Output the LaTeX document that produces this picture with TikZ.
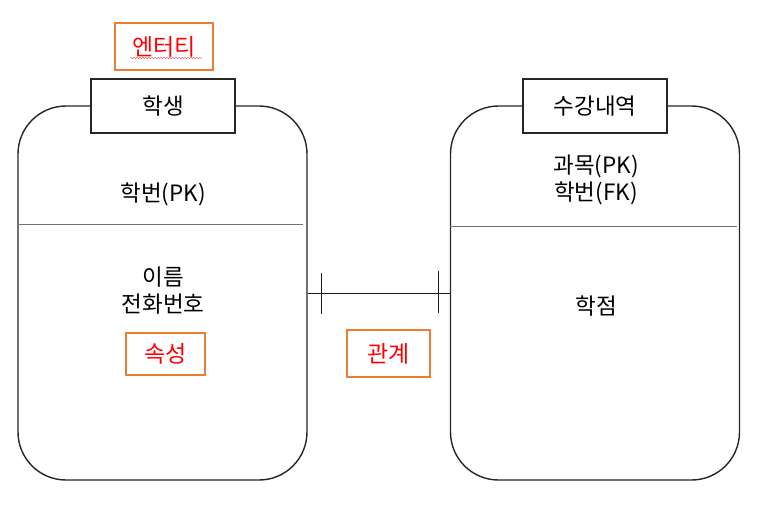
\documentclass[tikz,border=0pt]{standalone}
\usepackage{fontspec}
\setmainfont{Noto Sans CJK KR}
\usetikzlibrary{decorations.pathmorphing}
\definecolor{boxorange}{RGB}{237,125,49}

\tikzset{
  entity/.style={draw=black!85, line width=1.4pt, rounded corners=48pt,
    minimum width=289pt, minimum height=374pt, inner sep=0pt},
  titlebox/.style={draw=black!85, fill=white, line width=1.4pt,
    minimum width=144pt, minimum height=54pt, inner sep=0pt},
  field/.style={align=center, font=\fontsize{22.5}{27}\selectfont, inner sep=0pt},
  note/.style={draw=boxorange, line width=1.3pt, text=red,
    font=\fontsize{23}{27}\selectfont, inner sep=0pt}
}

\begin{document}
\begin{tikzpicture}[x=1pt, y=-1pt]
    \useasboundingbox (0,0) rectangle (773,506);
    \node[entity] (E1) at (162.5,293) {};
    \node[entity] (E2) at (595,293) {};
    \node[titlebox] (T1) at (163,106) {\fontsize{22.5}{27}\selectfont 학생};
    \node[titlebox] (T2) at (595,106) {\fontsize{22.5}{27}\selectfont 수강내역};
    \draw[black!55, line width=0.9pt] (18,224) -- (303,224);
    \draw[black!55, line width=0.9pt] (450,226) -- (737,226);
    \node[field] (K1) at (163,194) {학번(PK)};
    \node[field] (A1) at (163,291) {이름\\전화번호};
    \node[field] (K2) at (596,180) {과목(PK)\\학번(FK)};
    \node[field] (A2) at (596,306) {학점};
    \coordinate (t1) at (321,293);
    \coordinate (t2) at (438,293);
    \draw[black!90, line width=0.9pt] (E1.east) -- (E2.west);
    \draw[black!90, line width=0.9pt] ([yshift=-21pt]t1) -- ([yshift=20pt]t1);
    \draw[black!90, line width=0.9pt] ([yshift=-20pt]t2) -- ([yshift=22pt]t2);
    \node[note, minimum width=98pt, minimum height=47pt] (N1) at (164,46.5) {엔터티};
    \draw[red!60, line width=0.5pt, decorate,
      decoration={snake, amplitude=0.7pt, segment length=3pt}] (130,58) -- (202,58);
    \node[note, minimum width=79pt, minimum height=42pt] (N2) at (165.5,354) {속성};
    \node[note, minimum width=83pt, minimum height=47pt] (N3) at (388.5,353.5) {관계};
\end{tikzpicture}
\end{document}
